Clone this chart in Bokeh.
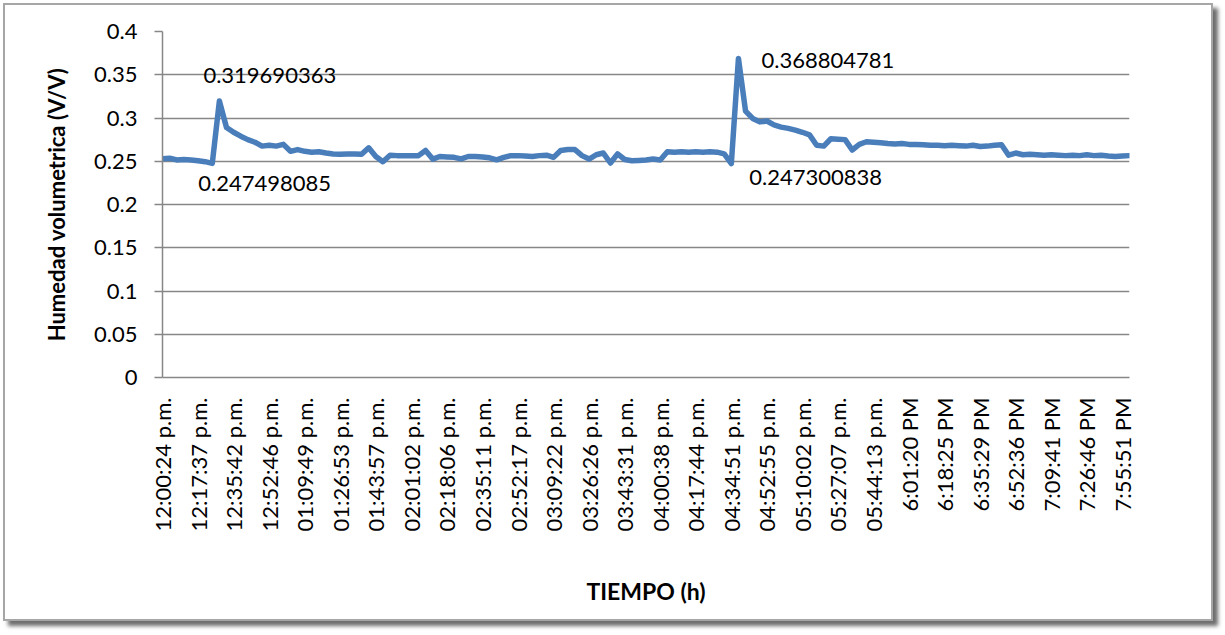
import math
from bokeh.plotting import figure
from bokeh.models import Range1d, FixedTicker, ColumnDataSource
from bokeh.core.properties import value
from bokeh.embed import file_html
from bokeh.resources import INLINE

# ---------------- data ----------------
humedad = [
    0.253, 0.2535, 0.2515, 0.252, 0.2515, 0.2505, 0.2495, 0.247498085, 0.319690363, 0.289,
    0.2835, 0.279, 0.275, 0.272, 0.2675, 0.2685, 0.2675, 0.2695, 0.2615, 0.2635,
    0.2615, 0.2605, 0.261, 0.2595, 0.2585, 0.258, 0.2585, 0.2585, 0.258, 0.2655,
    0.2555, 0.2495, 0.257, 0.2565, 0.2565, 0.2565, 0.2565, 0.2625, 0.2525, 0.2555,
    0.255, 0.2545, 0.2527, 0.2555, 0.2555, 0.255, 0.254, 0.2516, 0.2545, 0.2565,
    0.2565, 0.256, 0.2555, 0.2565, 0.257, 0.2545, 0.2625, 0.2635, 0.2635, 0.2565,
    0.2525, 0.2575, 0.2595, 0.248, 0.2585, 0.252, 0.2505, 0.251, 0.2515, 0.2525,
    0.2515, 0.261, 0.2605, 0.261, 0.2605, 0.261, 0.2605, 0.261, 0.2605, 0.2585,
    0.247300838, 0.368804781, 0.308, 0.2995, 0.2955, 0.2965, 0.292, 0.2895, 0.288, 0.286,
    0.2835, 0.2805, 0.2685, 0.2675, 0.276, 0.2755, 0.275, 0.263, 0.2695, 0.2725,
    0.272, 0.2715, 0.2705, 0.27, 0.2705, 0.2695, 0.2695, 0.269, 0.2685, 0.2685,
    0.268, 0.2685, 0.268, 0.2675, 0.2685, 0.267, 0.2675, 0.2685, 0.269, 0.257,
    0.2595, 0.2575, 0.258, 0.2575, 0.257, 0.2575, 0.257, 0.2565, 0.257, 0.2565,
    0.2575, 0.2565, 0.257, 0.256, 0.2555, 0.256, 0.2565,
]

tiempo_labels = [
    "12:00:24 p.m.", "12:17:37 p.m.", "12:35:42 p.m.", "12:52:46 p.m.",
    "01:09:49 p.m.", "01:26:53 p.m.", "01:43:57 p.m.", "02:01:02 p.m.",
    "02:18:06 p.m.", "02:35:11 p.m.", "02:52:17 p.m.", "03:09:22 p.m.",
    "03:26:26 p.m.", "03:43:31 p.m.", "04:00:38 p.m.", "04:17:44 p.m.",
    "04:34:51 p.m.", "04:52:55 p.m.", "05:10:02 p.m.", "05:27:07 p.m.",
    "05:44:13 p.m.", "6:01:20 PM", "6:18:25 PM", "6:35:29 PM",
    "6:52:36 PM", "7:09:41 PM", "7:26:46 PM", "7:55:51 PM",
]
label_step = 5

y_ticks = [0, 0.05, 0.1, 0.15, 0.2, 0.25, 0.3, 0.35, 0.4]
y_tick_labels = ["0", "0.05", "0.1", "0.15", "0.2", "0.25", "0.3", "0.35", "0.4"]

annotated_idx = [8, 7, 81, 80]

# ---------------- figure ----------------
n = len(humedad)
xs = list(range(n))

p = figure(
    width=1210, height=618,
    output_backend="svg", toolbar_location=None,
    x_range=Range1d(0, n - 1), y_range=Range1d(0, 0.4),
    min_border_left=157, min_border_right=86,
    min_border_top=26, min_border_bottom=246,
)
p.styles = {
    "margin": "3px 0 0 3px",
    "border": "2px solid #a6a6a6",
    "box-shadow": "5px 5px 4px #6e6e6e",
}
p.outline_line_color = None
p.background_fill_color = "white"
p.border_fill_color = "white"

FONT = "Lato"
grey = "#878787"

# grid
p.xgrid.visible = False
p.ygrid.ticker = FixedTicker(ticks=y_ticks)
p.ygrid.grid_line_color = grey
p.ygrid.grid_line_width = 1.5

# y axis
ya = p.yaxis[0]
ya.ticker = FixedTicker(ticks=y_ticks)
ya.major_label_overrides = {t: s for t, s in zip(y_ticks, y_tick_labels)}
ya.axis_line_color = grey
ya.axis_line_width = 1.5
ya.major_tick_line_color = grey
ya.major_tick_line_width = 1.5
ya.major_tick_out = 8
ya.major_tick_in = 0
ya.minor_tick_line_color = None
ya.major_label_standoff = 17
ya.major_label_text_font = FONT
ya.major_label_text_font_size = "22px"
ya.major_label_text_color = "black"
ya.axis_label = "Humedad volumetrica (V/V)"
ya.axis_label_text_font = FONT
ya.axis_label_text_font_style = "bold"
ya.axis_label_text_font_size = "22px"
ya.axis_label_text_color = "black"
ya.axis_label_standoff = 21

# x axis
xa = p.xaxis[0]
tick_pos = [i * label_step for i in range(len(tiempo_labels))]
xa.ticker = FixedTicker(ticks=tick_pos)
xa.major_label_overrides = {t: s for t, s in zip(tick_pos, tiempo_labels)}
xa.major_label_orientation = math.pi / 2
xa.axis_line_color = grey
xa.axis_line_width = 1.5
xa.major_tick_out = 0
xa.major_tick_in = 0
xa.major_tick_line_color = None
xa.minor_tick_line_color = None
xa.major_label_standoff = 20
xa.major_label_text_font = FONT
xa.major_label_text_font_size = "22px"
xa.major_label_text_color = "black"
xa.axis_label = "TIEMPO (h)"
xa.axis_label_text_font = FONT
xa.axis_label_text_font_style = "bold"
xa.axis_label_text_font_size = "23px"
xa.axis_label_text_color = "black"
xa.axis_label_standoff = 42

# series
p.line(xs, humedad, line_color="#4a7ebb", line_width=5.5,
       line_join="round", line_cap="round")

# data labels
ann = ColumnDataSource(dict(
    x=annotated_idx,
    y=[humedad[i] for i in annotated_idx],
    t=[f"{humedad[i]:.9f}" for i in annotated_idx],
    dx=[-16, -14, 23, 18],
    dy=[-25, 20, 2, 14],
))
p.text(x="x", y="y", text="t", source=ann, x_offset="dx", y_offset="dy",
       text_align="left", text_baseline="middle",
       text_font=value(FONT), text_font_size="22px", text_color="black")

open("out.html", "w").write(file_html(p, INLINE))
